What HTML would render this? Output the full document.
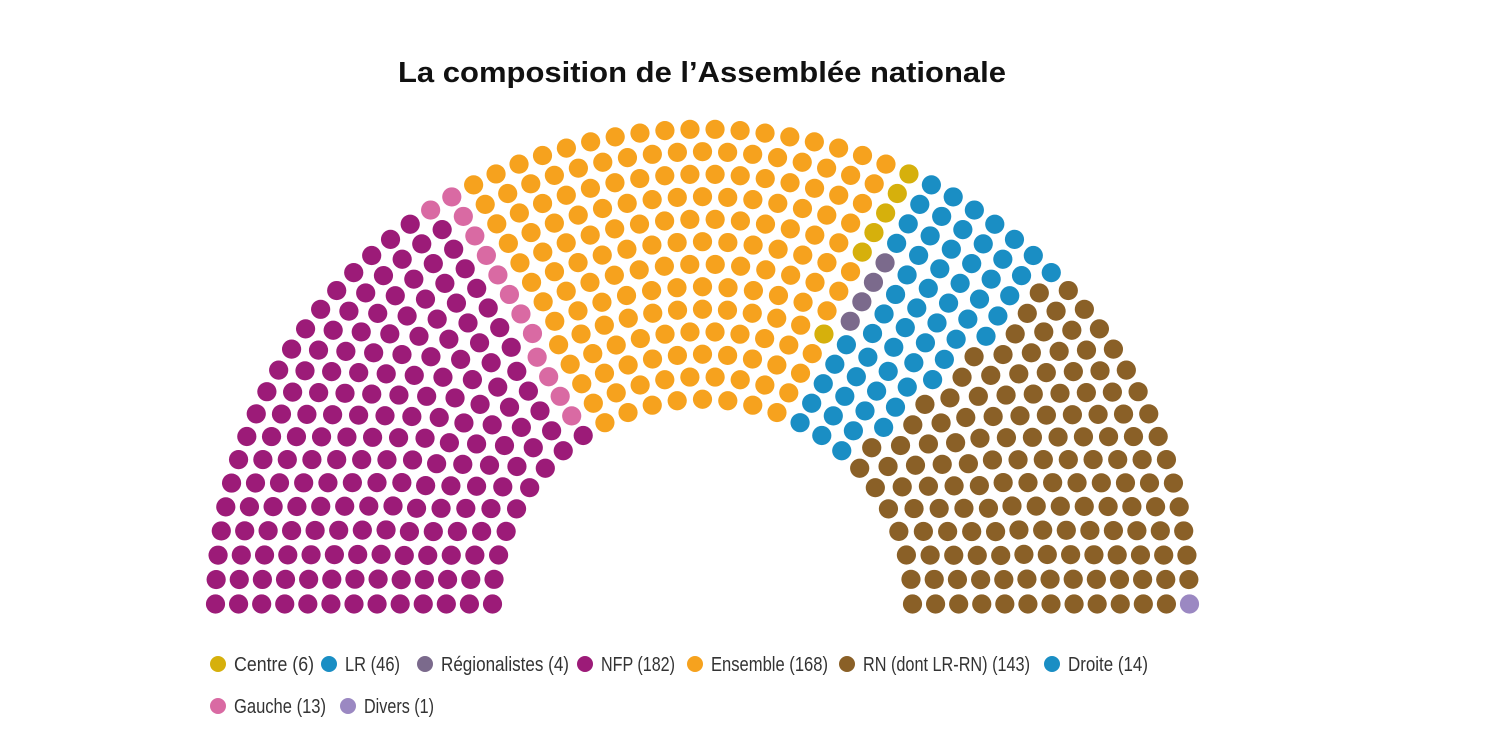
<!DOCTYPE html>
<html><head><meta charset="utf-8"><style>
html,body{margin:0;padding:0;background:#fff;}
svg{display:block;}
</style></head><body>
<svg id="chart" width="1500" height="741" viewBox="0 0 1500 741">
<text x="398" y="82" font-family="Liberation Sans, sans-serif" font-weight="bold" font-size="29" fill="#111" textLength="608" lengthAdjust="spacingAndGlyphs">La composition de l’Assemblée nationale</text>
<g id="seats"></g>
<g id="legend"></g>
</svg>
<script>
const parties = ["NFP","Gauche","Ensemble","Centre","Régionalistes","LR","Droite","RN (dont LR-RN)","Divers"];
const seatCounts = [182,13,168,6,4,46,14,143,1];
const partyColors = ["#9c1b78","#d96aa3","#f6a21e","#d6b00c","#7b6a8c","#1a8ec4","#1a8ec4","#8a6027","#9b88c2"];
const legendOrder = [3,5,4,0,2,7,6,1,8];
const legendX = [218,329,425,585,695,847,1052,218,348];
const legendY = [664,664,664,664,664,664,664,706,706];
const legendW = [80,55,128,74,117,167,80,92,70];

const NS="http://www.w3.org/2000/svg";
const cx=702.5, cy=604, rIn=210, rOut=487, ky=0.975, rows=13, dotR=9.6;
const total=seatCounts.reduce((a,b)=>a+b,0);
const radii=[];for(let i=0;i<rows;i++)radii.push(rIn+i*(rOut-rIn)/(rows-1));
const sumR=radii.reduce((a,b)=>a+b,0);
let per=radii.map(r=>Math.round(total*r/sumR));
let diff=total-per.reduce((a,b)=>a+b,0);
let k=rows-1;while(diff!==0){per[k]+=diff>0?1:-1;diff+=diff>0?-1:1;k=(k-1+rows)%rows;}
const seats=[];
radii.forEach((r,i)=>{const n=per[i];for(let j=0;j<n;j++){seats.push({a:Math.PI*j/(n-1),r:r});}});
seats.sort((p,q)=>{if(Math.abs(p.a-q.a)>1e-9)return p.a-q.a; return p.a<Math.PI/2?q.r-p.r:p.r-q.r;});
const g=document.getElementById('seats');
let idx=0;
seatCounts.forEach((c,pi)=>{for(let s=0;s<c;s++){const st=seats[idx++];
 const el=document.createElementNS(NS,'circle');
 el.setAttribute('cx',(cx-st.r*Math.cos(st.a)).toFixed(2));
 el.setAttribute('cy',(cy-st.r*Math.sin(st.a)*ky).toFixed(2));
 el.setAttribute('r',dotR);
 el.setAttribute('fill',partyColors[pi]);
 
 
 g.appendChild(el);}});
const lg=document.getElementById('legend');
legendOrder.forEach((pi,i)=>{
 const c=document.createElementNS(NS,'circle');
 c.setAttribute('cx',legendX[i]);c.setAttribute('cy',legendY[i]);c.setAttribute('r',8);
 c.setAttribute('fill',partyColors[pi]);
 
 
 lg.appendChild(c);
 const t=document.createElementNS(NS,'text');
 t.setAttribute('x',legendX[i]+16);t.setAttribute('y',legendY[i]+7);
 t.setAttribute('font-family','Liberation Sans Narrow, Liberation Sans, sans-serif');
 t.setAttribute('font-size','20');t.setAttribute('fill','#333');
 t.setAttribute('textLength',legendW[i]);t.setAttribute('lengthAdjust','spacingAndGlyphs');
 t.textContent=parties[pi]+' ('+seatCounts[pi]+')';
 
 
 lg.appendChild(t);
});
</script>
</body></html>
